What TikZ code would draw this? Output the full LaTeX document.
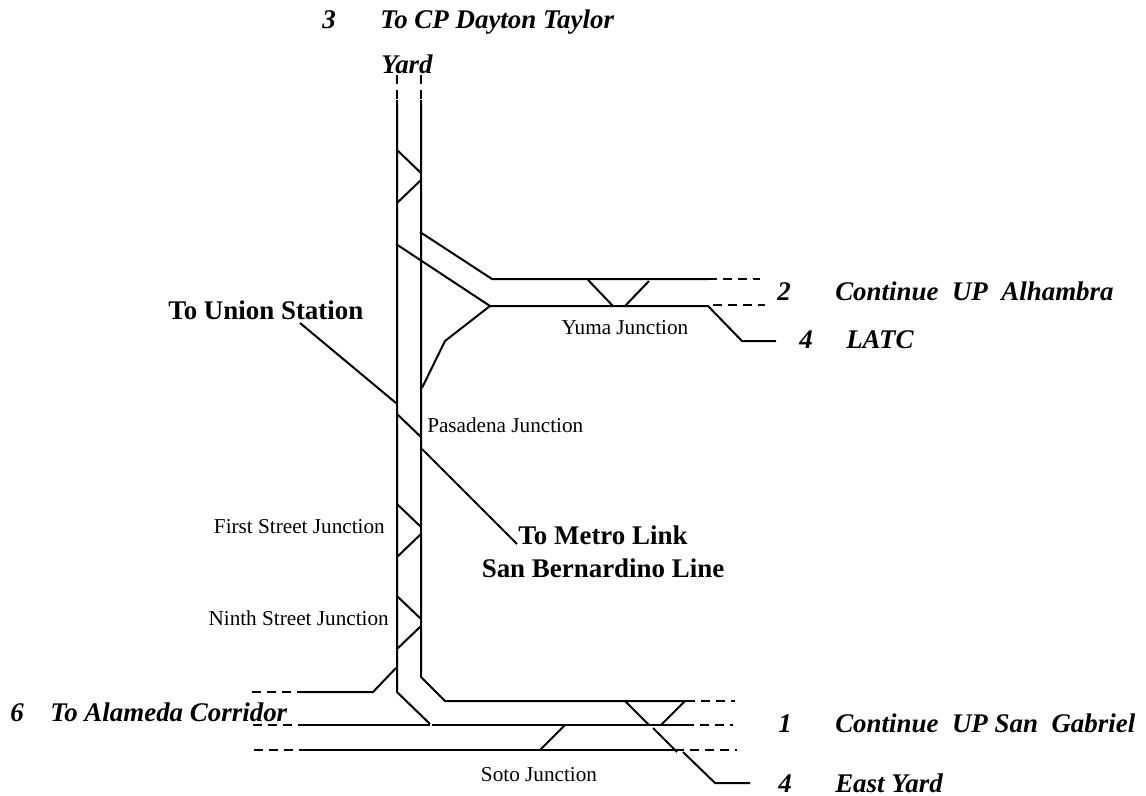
\documentclass[tikz,border=0pt]{standalone}
\usepackage{fontspec}
\setmainfont{Liberation Serif}
\usetikzlibrary{positioning}
\begin{document}
\begin{tikzpicture}[
  x=0.75pt, y=-0.75pt,
  rail/.style={draw, line width=1.5pt},
  railext/.style={draw, line width=1.1pt, dash pattern=on 6.75pt off 4.5pt},
  routelabel/.style={inner sep=0pt, anchor=base west, font=\fontsize{20.2}{24}\selectfont\bfseries\itshape},
  placelabel/.style={inner sep=0pt, anchor=base west, font=\fontsize{20.2}{24.5}\selectfont\bfseries},
  junctionlabel/.style={inner sep=0pt, font=\fontsize{15.9}{19}\selectfont}
]
  \useasboundingbox (0,0) rectangle (1146,796);
  % labels
  \node[routelabel] (num3) at (322,28) {3};
  \node[routelabel] (dayton) at (380,28) {To CP Dayton Taylor};
  \node[routelabel] (yard) at (381,73) {Yard};
  \node[routelabel] (num2) at (777,300) {2};
  \node[routelabel] (alhambra) at (835,300) {Continue\ \ UP\ \ Alhambra};
  \node[routelabel] (num4a) at (799,348) {4};
  \node[routelabel] (latc) at (846,348) {LATC};
  \node[routelabel] (num6) at (10,721) {6};
  \node[routelabel] (alameda) at (50,721) {To Alameda Corridor};
  \node[routelabel] (num1) at (778,732) {1};
  \node[routelabel] (gabriel) at (835,732) {Continue\ \ UP San\ \ Gabriel};
  \node[routelabel] (num4b) at (778,792) {4};
  \node[routelabel] (eastyard) at (835,792) {East Yard};
  \node[placelabel] (union) at (168,319) {To Union Station};
  \node[placelabel, align=center, anchor=center] (metro) at (603,552) {To Metro Link\\San Bernardino Line};
  \node[junctionlabel, anchor=base] (yuma) at (625,334) {Yuma Junction};
  \node[junctionlabel, anchor=base west] (pasadena) at (427,432) {Pasadena Junction};
  \node[junctionlabel, anchor=base east] (first) at (385,533) {First Street Junction};
  \node[junctionlabel, anchor=base east] (ninth) at (389,625) {Ninth Street Junction};
  \node[junctionlabel, anchor=base] (soto) at (539,781) {Soto Junction};
  % main line
  \draw[rail] (397,100) -- (397,692) -- (430,724);
  \draw[rail] (421,100) -- (421,677) -- (445,701) -- (686,701);
  \draw[railext] (397,75) -- (397,100);
  \draw[railext] (421,75) -- (421,100);
  % crossovers on the main line
  \draw[rail] (397,150) -- (421,173);
  \draw[rail] (421,180) -- (397,203);
  \draw[rail] (397,504) -- (421,527);
  \draw[rail] (421,534) -- (397,557);
  \draw[rail] (397,596) -- (421,619);
  \draw[rail] (421,626) -- (397,649);
  % Yuma branch
  \draw[rail] (420,232) -- (492,279) -- (708,279);
  \draw[rail] (396,244) -- (490,306) -- (708,306) -- (742,341) -- (776,341);
  \draw[rail] (490,306) -- (445,341) -- (422,388);
  \draw[railext] (708,279) -- (760,279);
  \draw[railext] (713,305) -- (765,305);
  \draw[rail] (588,280) -- (613,306);
  \draw[rail] (649,281) -- (625,306);
  % leaders
  \draw[rail] (300,323) -- (396,403);
  \draw[rail] (397,414) -- (421,437);
  \draw[rail] (422,449) -- (517,544);
  % Soto tracks
  \draw[rail] (300,692) -- (373,692) -- (396,668);
  \draw[rail] (300,725) -- (430,725);
  \draw[rail] (432,725) -- (685,725);
  \draw[rail] (300,750) -- (675,750);
  \draw[rail] (565,725) -- (540,750);
  \draw[rail] (625,701) -- (649,725);
  \draw[rail] (653,728) -- (677,752);
  \draw[rail] (683,752) -- (715,783) -- (750,783);
  \draw[rail] (685,701) -- (661,725);
  \draw[railext] (252,692) -- (300,692);
  \draw[railext] (253,725) -- (300,725);
  \draw[railext] (254,750) -- (300,750);
  \draw[railext] (686,701) -- (735,701);
  \draw[railext] (685,725) -- (733,725);
  \draw[railext] (675,750) -- (737,750);
\end{tikzpicture}
\end{document}
